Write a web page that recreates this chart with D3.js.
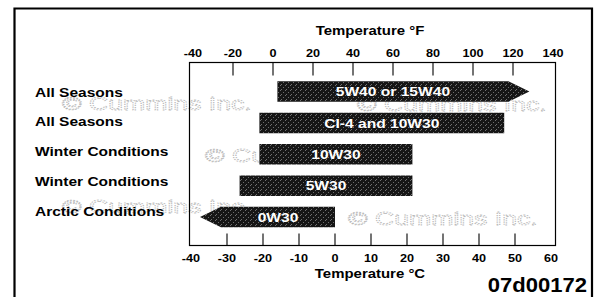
<!DOCTYPE html>
<html>
<head>
<meta charset="utf-8">
<script src="https://cdn.jsdelivr.net/npm/d3@7"></script>
<style>
html,body{margin:0;padding:0;background:#fff;}
svg{display:block;}
text{font-family:"Liberation Sans",Arial,Helvetica,sans-serif;}
</style>
</head>
<body>
<svg id="chart" width="599" height="297"></svg>
<script>
// ---- data ----
const rowLabels = ["All Seasons","All Seasons","Winter Conditions","Winter Conditions","Arctic Conditions"];
const oilNames  = ["5W40 or 15W40","CI-4 and 10W30","10W30","5W30","0W30"];
const minC      = [-16, -21, -21, -26.5, -37.5];
const maxC      = [54, 47, 21.5, 21.5, 0];
const arrowDir  = ["right","none","none","none","left"];
const fTicks    = [-40,-20,0,20,40,60,80,100,120,140];
const cTicks    = [-40,-30,-20,-10,0,10,20,30,40,50,60];
const topTitle  = "Temperature °F";
const botTitle  = "Temperature °C";
const figId     = "07d00172";
const watermark = "© Cummins Inc.";

// ---- layout ----
const svg = d3.select("#chart");
const box = {l:189.5, r:555.5, t:62.5, b:245.5};
const fScale = d3.scaleLinear().domain([-40,140]).range([193,553]);
const cScale = d3.scaleLinear().domain([-40,60]).range([191,551]);
const yScale = d3.scalePoint().domain(d3.range(rowLabels.length)).range([91.5,217]);
const yLabel = d3.scalePoint().domain(d3.range(rowLabels.length)).range([96.5,215.5]);
const barH = 20.5, headLen = 21;

function txt(sel, x, y, sx){ return sel.attr("transform", `translate(${x},${y}) scale(${sx},1)`); }

// pattern for the stippled bar fill
const defs = svg.append("defs");
const pat = defs.append("pattern").attr("id","stip").attr("patternUnits","userSpaceOnUse")
  .attr("width",5).attr("height",5);
pat.append("rect").attr("width",5).attr("height",5).attr("fill","#161616");
[[0,0],[3,2],[1,4]].forEach(p=>{
  pat.append("rect").attr("x",p[0]).attr("y",p[1]).attr("width",1).attr("height",1).attr("fill","#707070");
});

// outer frame
svg.append("path").attr("d","M14.5,297 L14.5,8.5 L592,8.5 L592,297")
  .attr("fill","none").attr("stroke","#000").attr("stroke-width",2.2);

// watermarks (drawn below bars)
const wm = svg.append("g");
[[62,110],[357,111],[205,162],[348,225],[62,213]].forEach(p=>{
  txt(wm.append("text"),p[0],p[1],1.48).text(watermark)
    .attr("font-size",18).attr("fill","none").attr("stroke","#b8b8b8")
    .attr("stroke-width",0.8).attr("stroke-dasharray","1.2 1");
});

// plot box
svg.append("rect").attr("x",box.l).attr("y",box.t).attr("width",box.r-box.l).attr("height",box.b-box.t)
  .attr("fill","none").attr("stroke","#000").attr("stroke-width",1.2);

// top (F) ticks and labels
const gT = svg.append("g");
gT.selectAll("line").data(fTicks.slice(1,-1)).join("line")
  .attr("x1",d=>fScale(d)).attr("x2",d=>fScale(d)).attr("y1",box.t).attr("y2",box.t+13)
  .attr("stroke","#000").attr("stroke-width",1.1);
gT.selectAll("text").data(fTicks).join("text")
  .each(function(d){ txt(d3.select(this),fScale(d),57,1.1); })
  .attr("text-anchor","middle").attr("font-size",11.5).attr("font-weight","bold").text(d=>d);

// bottom (C) ticks and labels
const gB = svg.append("g");
gB.selectAll("line").data(cTicks.slice(1,-1)).join("line")
  .attr("x1",d=>cScale(d)).attr("x2",d=>cScale(d)).attr("y1",box.b-12).attr("y2",box.b)
  .attr("stroke","#000").attr("stroke-width",1.1);
gB.selectAll("text").data(cTicks).join("text")
  .each(function(d){ txt(d3.select(this),cScale(d),262,1.1); })
  .attr("text-anchor","middle").attr("font-size",11.5).attr("font-weight","bold").text(d=>d);

// titles
txt(svg.append("text"),370,35,1.15).attr("text-anchor","middle").attr("font-size",13)
  .attr("font-weight","bold").text(topTitle);
txt(svg.append("text"),370,278,1.15).attr("text-anchor","middle").attr("font-size",13)
  .attr("font-weight","bold").text(botTitle);
txt(svg.append("text"),587,292,1.05).attr("text-anchor","end").attr("font-size",21)
  .attr("font-weight","bold").text(figId);

// row labels
const rows = d3.range(rowLabels.length);
svg.append("g").selectAll("text").data(rows).join("text")
  .each(function(i){ txt(d3.select(this),35,yLabel(i),1.15); })
  .attr("font-size",13.5).attr("font-weight","bold").attr("fill","#000").text(i=>rowLabels[i]);

// bars
function barPath(i){
  const x0 = cScale(minC[i]), x1 = cScale(maxC[i]);
  const yc = yScale(i), t = yc-barH/2, b = yc+barH/2;
  if(arrowDir[i]==="right"){
    const xb = x1-headLen;
    return `M${x0},${t}L${xb},${t}L${x1},${yc}L${xb},${b}L${x0},${b}Z`;
  } else if(arrowDir[i]==="left"){
    const xb = x0+headLen;
    return `M${x0},${yc}L${xb},${t}L${x1},${t}L${x1},${b}L${xb},${b}Z`;
  }
  return `M${x0},${t}L${x1},${t}L${x1},${b}L${x0},${b}Z`;
}
function bodyCenter(i){
  let x0 = cScale(minC[i]), x1 = cScale(maxC[i]);
  if(arrowDir[i]==="right") x1 -= headLen;
  if(arrowDir[i]==="left") x0 += headLen;
  return (x0+x1)/2;
}
const gBars = svg.append("g");
gBars.selectAll("path").data(rows).join("path").attr("d",barPath).attr("fill","url(#stip)");
gBars.selectAll("text").data(rows).join("text")
  .each(function(i){ txt(d3.select(this),bodyCenter(i),yScale(i)+4.7,1.2); })
  .attr("text-anchor","middle").attr("font-size",13).attr("font-weight","bold")
  .attr("fill","#fff").text(i=>oilNames[i]);
</script>
</body>
</html>
